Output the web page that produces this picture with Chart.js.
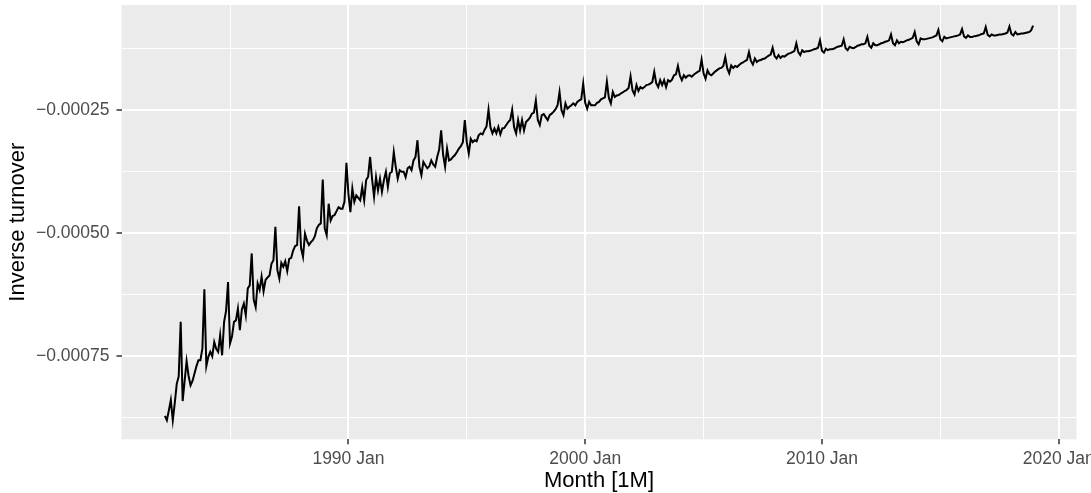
<!DOCTYPE html>
<html>
<head>
<meta charset="utf-8">
<script src="https://cdn.jsdelivr.net/npm/chart.js@4"></script>
<style>
  html, body { margin: 0; padding: 0; background: #ffffff; }
  canvas { display: block; }
</style>
</head>
<body>
<canvas id="chart" width="1091" height="493"></canvas>
<script>
// monthly series starts 1982 Apr, ends 2018 Dec
var startYear = 1982;
var startMonth = 4;

// inverse turnover, in units of 1e-5 (one row per year)
var invTurnoverE5 = [
  -87.1, -88.0, -86.0, -83.9, -88.0, -84.5, -80.6, -79.1, -68.0,
  -84.1, -80.0, -76.0, -79.0, -80.9, -80.0, -78.5, -77.0, -75.8, -75.8, -73.4, -61.4,
  -77.0, -75.1, -74.1, -75.0, -72.1, -73.5, -74.1, -70.7, -74.8, -68.0, -65.8, -59.9,
  -72.4, -71.0, -68.0, -67.7, -65.3, -69.7, -65.5, -64.3, -66.7, -61.2, -60.6, -54.1,
  -63.5, -65.0, -60.2, -61.5, -58.8, -61.8, -59.5, -59.0, -58.6, -56.2, -55.5, -48.7,
  -57.5, -59.2, -56.0, -56.8, -55.7, -57.7, -55.2, -55.0, -53.5, -52.6, -52.4, -44.5,
  -53.0, -54.8, -50.1, -51.5, -52.4, -51.8, -51.4, -50.6, -49.0, -48.3, -48.0, -39.1,
  -49.0, -50.4, -44.0, -47.4, -46.5, -46.3, -45.5, -44.7, -45.0, -45.0, -43.6, -35.7,
  -42.0, -45.7, -40.9, -43.6, -42.3, -42.8, -43.3, -40.6, -43.3, -39.2, -38.5, -34.5,
  -39.0, -42.6, -38.6, -41.3, -38.9, -41.6, -39.2, -37.5, -40.6, -37.8, -37.5, -33.5,
  -36.5, -38.9, -37.2, -37.5, -37.5, -38.6, -36.8, -36.5, -37.2, -35.2, -34.5, -31.1,
  -36.5, -38.2, -35.5, -36.2, -36.8, -36.4, -35.2, -36.0, -36.5, -34.5, -33.0, -29.1,
  -34.0, -36.5, -32.8, -35.2, -35.0, -34.5, -34.1, -33.5, -32.8, -32.3, -31.5, -27.0,
  -31.5, -33.8, -30.8, -31.5, -31.1, -31.3, -30.1, -29.7, -29.9, -29.0, -28.3, -24.9,
  -28.5, -29.7, -28.7, -29.7, -28.4, -29.9, -28.7, -28.6, -28.0, -27.4, -27.0, -24.9,
  -28.5, -29.7, -27.0, -29.1, -27.0, -29.1, -27.4, -27.0, -26.5, -25.7, -25.5, -23.0,
  -27.0, -28.0, -26.0, -25.8, -26.4, -27.0, -26.0, -25.7, -25.3, -24.8, -24.0, -21.3,
  -25.0, -26.0, -23.6, -24.7, -24.3, -24.0, -23.6, -24.0, -23.3, -23.0, -22.8, -19.6,
  -23.5, -24.7, -23.3, -24.0, -24.0, -24.0, -23.5, -23.3, -22.8, -22.6, -22.4, -19.2,
  -22.5, -23.6, -21.3, -22.3, -22.0, -21.9, -21.6, -21.4, -21.1, -20.9, -20.5, -18.1,
  -21.0, -21.8, -19.9, -21.1, -20.3, -20.6, -20.3, -19.9, -19.8, -19.6, -19.3, -17.2,
  -19.5, -20.3, -18.9, -19.9, -18.9, -20.3, -18.9, -19.2, -18.8, -17.9, -17.7, -16.0,
  -18.0, -18.9, -17.9, -18.4, -18.0, -17.9, -18.2, -17.8, -17.5, -17.2, -17.0, -14.7,
  -17.5, -18.6, -16.9, -17.7, -17.9, -17.5, -17.1, -16.8, -16.5, -16.4, -16.0, -14.2,
  -16.5, -17.5, -15.9, -16.4, -16.0, -16.2, -15.8, -15.5, -15.3, -15.0, -14.8, -13.2,
  -15.0, -15.7, -14.5, -15.2, -14.9, -14.8, -14.6, -14.5, -14.2, -13.9, -13.7, -12.3,
  -14.0, -14.5, -13.8, -14.4, -14.0, -14.1, -13.8, -13.5, -13.4, -13.2, -13.0, -11.4,
  -13.2, -13.8, -12.8, -13.2, -13.0, -13.0, -12.9, -12.8, -12.6, -12.5, -12.3, -10.8,
  -12.9, -13.3, -12.5, -12.8, -12.6, -12.6, -12.5, -12.3, -12.1, -12.0, -11.9, -10.6,
  -12.4, -12.8, -12.1, -12.3, -12.4, -12.2, -11.9, -11.8, -11.6, -11.6, -11.4, -10.1,
  -11.9, -12.3, -11.4, -11.8, -11.8, -11.6, -11.4, -11.3, -11.1, -11.0, -10.8, -9.6,
  -11.4, -11.8, -10.8, -11.4, -11.1, -11.2, -11.0, -10.8, -10.7, -10.5, -10.3, -9.1,
  -11.0, -11.6, -10.4, -10.6, -10.6, -10.5, -10.4, -10.3, -10.2, -10.0, -9.8, -8.7,
  -10.6, -11.0, -10.1, -10.4, -10.3, -10.2, -10.1, -10.0, -9.9, -9.8, -9.6, -8.5,
  -10.0, -10.3, -9.8, -10.1, -10.1, -10.0, -9.9, -9.8, -9.7, -9.5, -9.4, -8.1,
  -9.7, -10.0, -9.6, -9.8, -9.8, -9.7, -9.6, -9.6, -9.5, -9.4, -9.2, -8.0,
  -9.5, -9.8, -9.1, -9.6, -9.5, -9.4, -9.4, -9.3, -9.2, -9.1, -8.8, -7.8
];

// axis ticks (minor ones have an empty label)
var xTickYears = [1985, 1990, 1995, 2000, 2005, 2010, 2015, 2020];
var xTickLabels = ['', '1990 Jan', '', '2000 Jan', '', '2010 Jan', '', '2020 Jan'];
var yTickValues = [-0.000875, -0.00075, -0.000625, -0.0005, -0.000375, -0.00025, -0.000125];
var yTickLabels = ['', '\u22120.00075', '', '\u22120.00050', '', '\u22120.00025', ''];

var points = invTurnoverE5.map(function(v, i){
  var m = startMonth - 1 + i;
  return { x: startYear + m / 12, y: v * 1e-5 };
});

function isMajor(labels, index) {
  return !!labels[index];
}

var panelBg = {
  id: 'panelBg',
  beforeDraw: function(chart) {
    var a = chart.chartArea, ctx = chart.ctx;
    ctx.save();
    ctx.fillStyle = '#ffffff';
    ctx.fillRect(0, 0, chart.width, chart.height);
    ctx.fillStyle = '#EBEBEB';
    ctx.fillRect(a.left, a.top, a.right - a.left, a.bottom - a.top);
    ctx.restore();
  }
};

var tickFont = { family: 'Liberation Sans, Arial, sans-serif', size: 17.5 };
var titleFont = { family: 'Liberation Sans, Arial, sans-serif', size: 22, lineHeight: 1 };

new Chart(document.getElementById('chart').getContext('2d'), {
  type: 'line',
  data: {
    datasets: [{
      data: points,
      borderColor: '#000000',
      borderWidth: 2,
      pointRadius: 0,
      tension: 0,
      fill: false
    }]
  },
  options: {
    responsive: false,
    animation: false,
    devicePixelRatio: 1,
    layout: { padding: { top: 5, right: 14.5, left: 0, bottom: 0 } },
    plugins: {
      legend: { display: false },
      tooltip: { enabled: false }
    },
    scales: {
      x: {
        type: 'linear',
        min: 1980.417,
        max: 2020.75,
        afterBuildTicks: function(s){ s.ticks = xTickYears.map(function(v){ return { value: v }; }); },
        afterFit: function(s){
          s.height = 53.7;
          s.paddingLeft = 0;
          s.paddingRight = 0;
        },
        border: { display: false },
        grid: {
          color: '#ffffff',
          lineWidth: function(c){ return isMajor(xTickLabels, c.index) ? 2 : 1; },
          tickColor: function(c){ return isMajor(xTickLabels, c.index) ? '#333333' : 'rgba(0,0,0,0)'; },
          tickLength: 5,
          tickWidth: 1.5
        },
        ticks: {
          autoSkip: false,
          maxRotation: 0,
          padding: 4,
          color: '#4D4D4D',
          font: tickFont,
          callback: function(v, i){ return xTickLabels[i]; }
        },
        title: {
          display: true,
          text: 'Month [1M]',
          color: '#000000',
          font: titleFont,
          padding: { top: 0, bottom: 1 }
        }
      },
      y: {
        min: -0.0009187,
        max: -0.0000362,
        afterBuildTicks: function(s){ s.ticks = yTickValues.map(function(v){ return { value: v }; }); },
        afterFit: function(s){
          s.width = 121.5;
          s.paddingTop = 0;
          s.paddingBottom = 0;
        },
        border: { display: false },
        grid: {
          color: '#ffffff',
          lineWidth: function(c){ return isMajor(yTickLabels, c.index) ? 2 : 1; },
          tickColor: function(c){ return isMajor(yTickLabels, c.index) ? '#333333' : 'rgba(0,0,0,0)'; },
          tickLength: 5,
          tickWidth: 1.5
        },
        ticks: {
          autoSkip: false,
          padding: 7,
          color: '#4D4D4D',
          font: tickFont,
          callback: function(v, i){ return yTickLabels[i]; }
        },
        title: {
          display: true,
          text: 'Inverse turnover',
          color: '#000000',
          font: titleFont,
          padding: { top: 7, bottom: 0 }
        }
      }
    }
  },
  plugins: [panelBg]
});
</script>
</body>
</html>
